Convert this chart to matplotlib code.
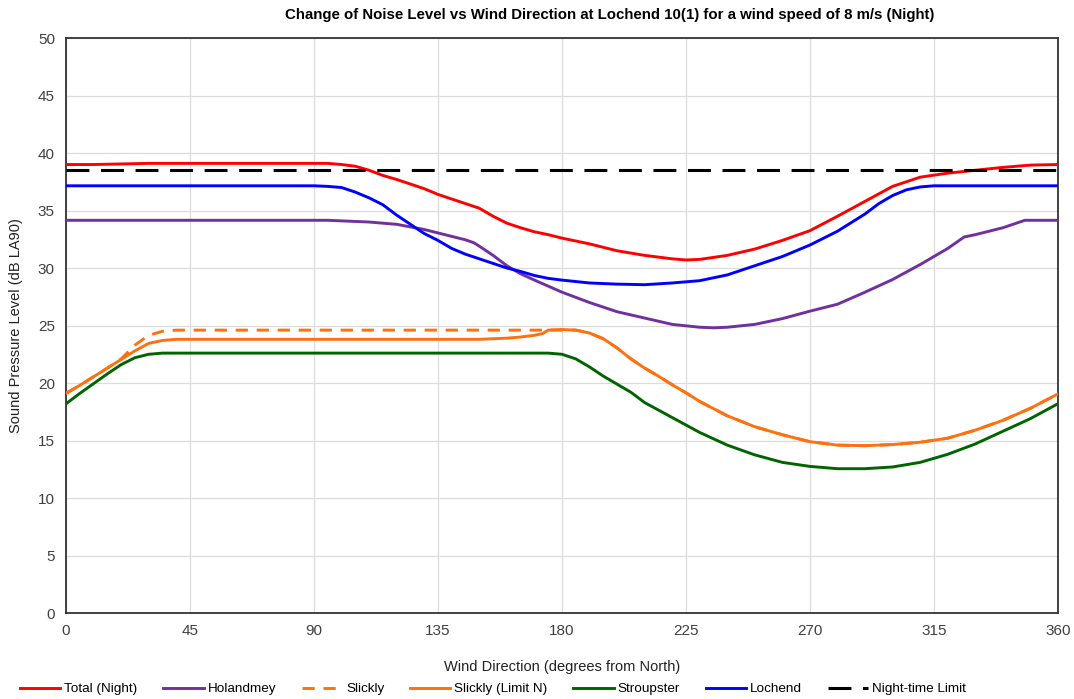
import matplotlib
matplotlib.use("Agg")
import matplotlib.pyplot as plt

plt.rcParams['font.family'] = ['Liberation Sans', 'DejaVu Sans']

# Total (Night)
total_x = [0, 10, 20, 30, 40, 60, 80, 90, 95, 100, 105, 110, 115, 120, 125, 130, 135, 140, 145, 150,
           155, 160, 165, 170, 175, 180, 190, 200, 210, 220, 225, 230, 240, 250, 260, 270, 280, 290,
           300, 310, 320, 330, 340, 350, 360]
total_y = [39.0, 39.0, 39.05, 39.1, 39.1, 39.1, 39.1, 39.1, 39.1, 39.0, 38.85, 38.5, 38.05, 37.7, 37.3,
           36.9, 36.4, 36.0, 35.6, 35.2, 34.5, 33.9, 33.5, 33.15, 32.9, 32.6, 32.1, 31.5, 31.1, 30.8,
           30.7, 30.75, 31.1, 31.65, 32.4, 33.25, 34.5, 35.8, 37.1, 37.9, 38.25, 38.5, 38.75, 38.95, 39.0]

# Holandmey
holand_x = [0, 95, 100, 110, 120, 130, 140, 145, 148, 150, 155, 160, 165, 170, 180, 190, 200, 210,
            220, 230, 235, 240, 250, 260, 270, 280, 290, 300, 310, 320, 326, 330, 340, 348, 360]
holand_y = [34.15, 34.15, 34.1, 34.0, 33.8, 33.35, 32.75, 32.45, 32.2, 31.9, 31.1, 30.2, 29.5, 28.95,
            27.9, 27.0, 26.2, 25.65, 25.1, 24.85, 24.8, 24.85, 25.1, 25.6, 26.25, 26.85, 27.9, 29.0,
            30.3, 31.7, 32.7, 32.9, 33.5, 34.15, 34.15]

# Slickly (unlimited)
slickly_x = [0, 5, 10, 15, 20, 25, 30, 35, 40, 180, 185, 190, 195, 200, 205, 210, 215, 220, 225, 230,
             240, 250, 260, 270, 280, 290, 300, 310, 320, 330, 340, 350, 360]
slickly_y = [19.1, 19.8, 20.55, 21.3, 22.1, 23.3, 24.15, 24.5, 24.6, 24.6, 24.6, 24.35, 23.85, 23.05,
             22.1, 21.3, 20.6, 19.85, 19.15, 18.4, 17.15, 16.2, 15.5, 14.9, 14.6, 14.55, 14.65, 14.85,
             15.2, 15.9, 16.75, 17.8, 19.05]

# Slickly (Limit N)
slimit_x = [0, 5, 10, 15, 20, 25, 30, 35, 40, 150, 160, 165, 170, 173, 175, 180, 185, 190, 195, 200,
            205, 210, 215, 220, 225, 230, 240, 250, 260, 270, 280, 290, 300, 310, 320, 330, 340, 350, 360]
slimit_y = [19.1, 19.8, 20.55, 21.3, 22.05, 22.8, 23.45, 23.7, 23.8, 23.8, 23.9, 24.0, 24.15, 24.3,
            24.6, 24.65, 24.6, 24.35, 23.85, 23.05, 22.1, 21.3, 20.6, 19.85, 19.15, 18.4, 17.15, 16.2,
            15.5, 14.9, 14.6, 14.55, 14.65, 14.85, 15.2, 15.9, 16.75, 17.8, 19.05]

# Stroupster
stroup_x = [0, 5, 10, 15, 20, 25, 30, 35, 175, 180, 185, 190, 195, 200, 205, 210, 220, 230, 240, 250,
            260, 270, 280, 290, 300, 310, 320, 330, 340, 350, 360]
stroup_y = [18.2, 19.1, 19.95, 20.8, 21.6, 22.2, 22.5, 22.6, 22.6, 22.5, 22.1, 21.4, 20.6, 19.9, 19.2,
            18.3, 17.0, 15.7, 14.6, 13.75, 13.1, 12.75, 12.55, 12.55, 12.7, 13.1, 13.8, 14.7, 15.8,
            16.9, 18.2]

# Lochend
loch_x = [0, 90, 95, 100, 105, 110, 115, 120, 125, 130, 135, 140, 145, 150, 155, 160, 165, 170, 175,
          180, 190, 200, 210, 220, 230, 240, 250, 260, 270, 280, 290, 295, 300, 305, 310, 315, 360]
loch_y = [37.15, 37.15, 37.1, 37.0, 36.6, 36.1, 35.5, 34.6, 33.8, 33.0, 32.4, 31.7, 31.2, 30.8, 30.4,
          30.0, 29.7, 29.35, 29.1, 28.95, 28.7, 28.6, 28.55, 28.7, 28.9, 29.4, 30.2, 31.0, 32.0, 33.2,
          34.7, 35.6, 36.3, 36.8, 37.05, 37.15, 37.15]

night_limit = 38.5
xticks = [0, 45, 90, 135, 180, 225, 270, 315, 360]
yticks = list(range(0, 51, 5))

fig = plt.figure(figsize=(10.74, 6.99), dpi=100)
ax = fig.add_axes([0.0615, 0.123, 0.9235, 0.8226])

lw = 2.1
ax.plot(total_x, total_y, color='#ff0000', lw=lw, label='Total (Night)', zorder=3)
ax.plot(holand_x, holand_y, color='#7030a0', lw=lw, label='Holandmey', zorder=3)
ax.plot(slickly_x, slickly_y, color='#ff7010', lw=lw, dashes=(4.2, 3.0), label='Slickly', zorder=3)
ax.plot(slimit_x, slimit_y, color='#ff7010', lw=lw, label='Slickly (Limit N)', zorder=3)
ax.plot(stroup_x, stroup_y, color='#006400', lw=lw, label='Stroupster', zorder=3)
ax.plot(loch_x, loch_y, color='#0000ff', lw=lw, label='Lochend', zorder=3)
ax.plot([0, 360], [night_limit, night_limit], color='black', lw=2.2, dashes=(7.5, 3.8),
        label='Night-time Limit', zorder=4)

ax.set_xlim(0, 360)
ax.set_ylim(0, 50)
ax.set_xticks(xticks)
ax.set_yticks(yticks)
ax.tick_params(length=0, labelsize=11, labelcolor='#404040', pad=8)
ax.grid(True, color='#dcdcdc', lw=0.9)
ax.set_axisbelow(True)
for s in ax.spines.values():
    s.set_color('#333333')
    s.set_linewidth(1.3)

ax.set_xlabel('Wind Direction (degrees from North)', fontsize=10.5, color='#222222', labelpad=16)
ax.set_ylabel('Sound Pressure Level (dB LA90)', fontsize=10.5, color='#222222', labelpad=11)

fig.text(0.568, 0.978, 'Change of Noise Level vs Wind Direction at Lochend 10(1) for a wind speed of 8 m/s (Night)',
         ha='center', va='center', fontsize=10.8, fontweight='bold')

fig.legend(loc='center', bbox_to_anchor=(0.459, 0.0143), ncol=7, frameon=False, fontsize=9.7,
           handlelength=3.0, handletextpad=0.3, columnspacing=1.9)

fig.savefig('out.png', dpi=100)
